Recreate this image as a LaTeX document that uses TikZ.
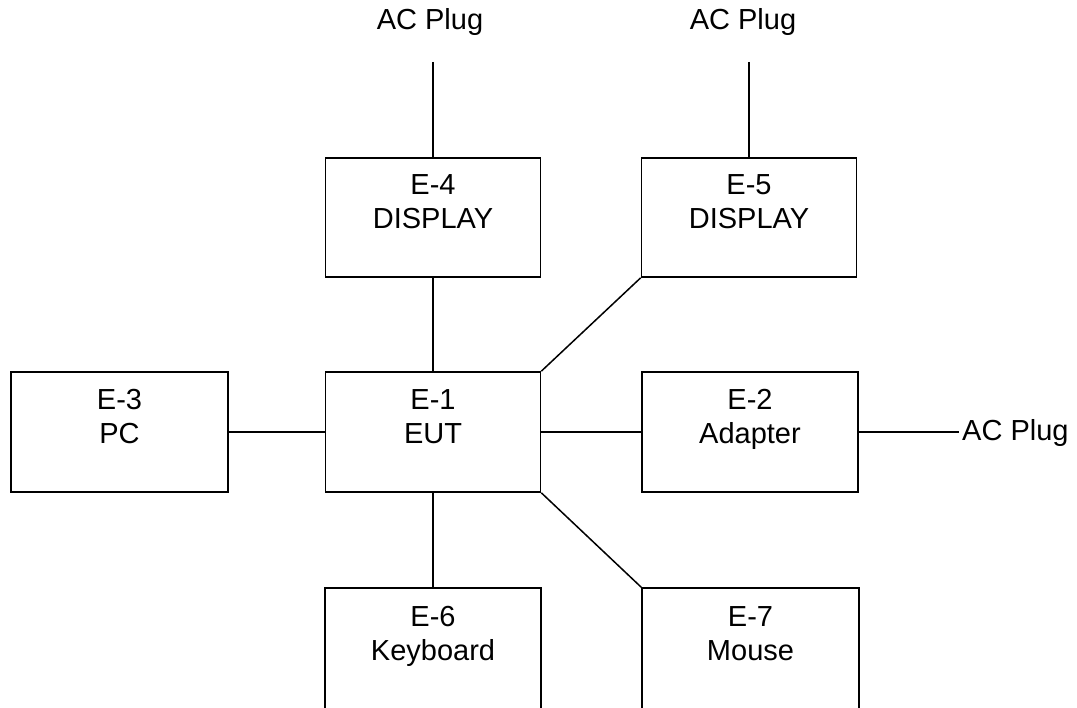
\documentclass[tikz,border=0pt]{standalone}
\usepackage{fontspec}
\setmainfont{Liberation Sans}
\begin{document}
\begin{tikzpicture}[x=1pt,y=-1pt,
  box/.style={draw=black,line width=1.6pt,rectangle,inner sep=0pt,minimum width=215pt,minimum height=119pt},
  lbl/.style={inner sep=0pt,anchor=base,font=\fontsize{29}{34}\selectfont},
  wire/.style={draw=black,line width=1.5pt}]
\useasboundingbox (0,0) rectangle (1077,708);
\clip (0,0) rectangle (1077,708);
% boxes
\node[box] (e4) at (433,217.5) {};
\node[box] (e5) at (749,217.5) {};
\node[box,minimum width=217pt,minimum height=120pt] (e3) at (119.5,432) {};
\node[box,minimum height=120pt] (e1) at (433,432) {};
\node[box,minimum width=216pt,minimum height=120pt] (e2) at (750,432) {};
\node[box,minimum width=216pt,minimum height=132pt] (e6) at (433,654) {};
\node[box,minimum width=217pt,minimum height=132pt] (e7) at (750.5,654) {};
% labels
\node[lbl] (t4a) at (433,195) {E-4};
\node[lbl] (t4b) at (433,229) {DISPLAY};
\node[lbl] (t5a) at (749,195) {E-5};
\node[lbl] (t5b) at (749,229) {DISPLAY};
\node[lbl] (t3a) at (119.5,410) {E-3};
\node[lbl] (t3b) at (119.5,444) {PC};
\node[lbl] (t1a) at (433,410) {E-1};
\node[lbl] (t1b) at (433,444) {EUT};
\node[lbl] (t2a) at (750,410) {E-2};
\node[lbl] (t2b) at (750,444) {Adapter};
\node[lbl] (t6a) at (433,626) {E-6};
\node[lbl] (t6b) at (433,660) {Keyboard};
\node[lbl] (t7a) at (750.5,626) {E-7};
\node[lbl] (t7b) at (750.5,660) {Mouse};
% AC plugs
\node[lbl] (ac4) at (430,30) {AC Plug};
\node[lbl] (ac5) at (743,30) {AC Plug};
\node[lbl,anchor=base west] (ac2) at (962,441) {AC Plug};
\coordinate (p4) at (433,62);
\coordinate (p5) at (749,62);
\coordinate (p2) at (959,432);
% connectors
\draw[wire] (p4) -- (e4.north);
\draw[wire] (p5) -- (e5.north);
\draw[wire] (e2.east) -- (p2);
\draw[wire] (e4.south) -- (e1.north);
\draw[wire] (e3.east) -- (e1.west);
\draw[wire] (e1.east) -- (e2.west);
\draw[wire] (e1.south) -- (e6.north);
\draw[wire] (e1.north east) -- (e5.south west);
\draw[wire] (e1.south east) -- (e7.north west);
\end{tikzpicture}
\end{document}
